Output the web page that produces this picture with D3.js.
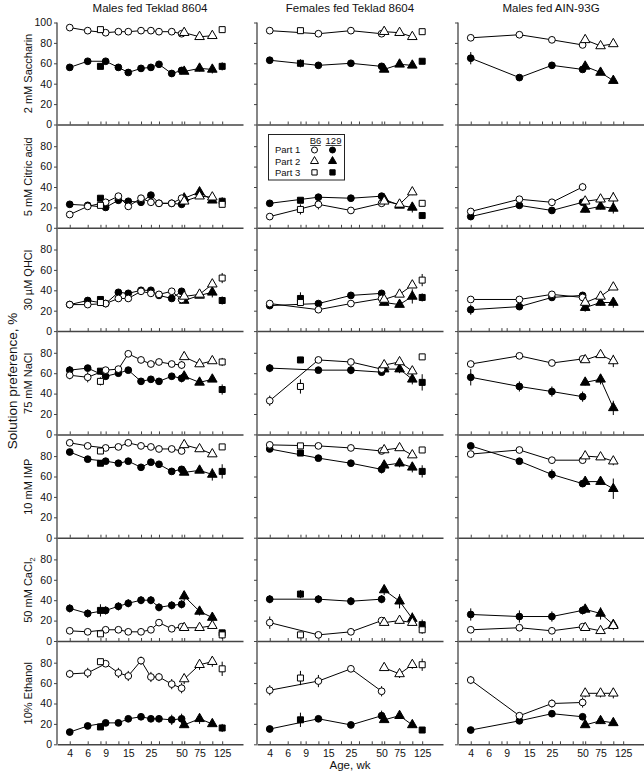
<!DOCTYPE html>
<html><head><meta charset="utf-8">
<script src="https://cdn.jsdelivr.net/npm/d3@7"></script>
<style>
body{margin:0;background:#fff}
svg{display:block;font-family:Arial,"Liberation Sans",sans-serif}
</style>
</head><body>
<svg id="chart" width="644" height="774"></svg>
<script>
// ---------- labels ----------
const groups = ["Males fed Teklad 8604", "Females fed Teklad 8604", "Males fed AIN-93G"];
const tastants = ["2 mM Saccharin", "5 mM Citric acid", "30 µM QHCl", "75 mM NaCl", "10 mM IMP", "50 mM CaCl", "10% Ethanol"];
const tastantSubscripts = ["", "", "", "", "", "2", ""];
const yTickValues = [0, 20, 40, 60, 80];
const xAxisLabel = "Age, wk";
const yAxisLabel = "Solution preference, %";

// ---------- ages (weeks) ----------
const agesPart1 = [[4, 6, 9, 12, 15, 20, 25, 30, 40, 50], [4, 12, 25, 50], [4, 12, 25, 50]];
const agesPart2 = [53, 75, 100];
const agesPart3 = [8, 125];
const tickAges = [4, 6, 8, 9, 12, 15, 20, 25, 30, 40, 50, 53, 75, 100, 125];
const tickLabelAges = [4, 6, 9, 15, 25, 50, 75, 125];

// ---------- values: [column0, column1, column2] ----------
const saccharin = {
  b6p1: [[95, 92, 90, 91, 91, 92, 92, 91, 91, 89], [92, 89, 92, 89], [85, 88, 83, 78]],
  s129p1: [[56, 62, 62, 56, 51, 55, 56, 59, 50, 53], [63, 58, 60, 57], [65, 46, 58, 54]],
  b6p2: [[90, 86, 87], [91, 90, 86], [83, 77, 79]],
  s129p2: [[52, 55, 54], [54, 59, 58], [57, 51, 43]],
  b6p3: [[93, 93], [92, 91], []],
  s129p3: [[57, 57], [60, 62], []]
};
const citric = {
  b6p1: [[13, 21, 25, 31, 21, 29, 25, 24, 24, 29], [11, 23, 17, 24], [16, 28, 25, 40]],
  s129p1: [[23, 22, 20, 27, 26, 25, 32, 24, 24, 23], [24, 30, 29, 31], [11, 22, 17, 25]],
  b6p2: [[26, 31, 30], [26, 23, 35], [26, 28, 29]],
  s129p2: [[29, 35, 27], [28, 22, 20], [18, 21, 19]],
  b6p3: [[22, 23], [18, 24], []],
  s129p3: [[29, 26], [27, 12], []]
};
const qhcl = {
  b6p1: [[26, 26, 27, 32, 32, 39, 37, 36, 39, 31], [27, 21, 27, 32], [31, 31, 36, 33]],
  s129p1: [[26, 30, 27, 38, 37, 40, 40, 35, 32, 39], [25, 27, 35, 37], [21, 24, 33, 35]],
  b6p2: [[34, 36, 46], [31, 36, 45], [28, 34, 43]],
  s129p2: [[30, 35, 38], [28, 26, 34], [23, 28, 28]],
  b6p3: [[28, 52], [28, 50], []],
  s129p3: [[31, 30], [32, 33], []]
};
const nacl = {
  b6p1: [[58, 56, 63, 64, 79, 73, 69, 71, 69, 68], [33, 73, 71, 64], [69, 77, 70, 74]],
  s129p1: [[63, 65, 57, 60, 63, 52, 54, 52, 57, 55], [65, 63, 63, 61], [56, 47, 42, 37]],
  b6p2: [[76, 69, 72], [68, 71, 62], [73, 78, 72]],
  s129p2: [[57, 51, 54], [64, 64, 54], [51, 54, 26]],
  b6p3: [[52, 71], [47, 76], []],
  s129p3: [[62, 44], [73, 51], []]
};
const imp = {
  b6p1: [[93, 90, 88, 89, 93, 90, 89, 87, 87, 85], [91, 90, 88, 85], [82, 86, 76, 76]],
  s129p1: [[84, 77, 75, 73, 75, 69, 74, 72, 65, 67], [87, 78, 73, 67], [90, 75, 62, 53]],
  b6p2: [[91, 87, 82], [86, 88, 81], [80, 79, 75]],
  s129p2: [[64, 66, 62], [71, 73, 69], [55, 55, 48]],
  b6p3: [[85, 89], [90, 86], []],
  s129p3: [[73, 65], [83, 65], []]
};
const cacl2 = {
  b6p1: [[10, 9, 11, 11, 9, 9, 11, 18, 12, 14], [18, 6, 9, 20], [11, 13, 10, 14]],
  s129p1: [[32, 27, 30, 34, 37, 40, 40, 33, 35, 36], [41, 41, 39, 41], [26, 24, 24, 30]],
  b6p2: [[13, 13, 15], [18, 20, 18], [13, 10, 15]],
  s129p2: [[44, 29, 23], [50, 39, 22], [31, 27, 16]],
  b6p3: [[7, 6], [6, 11], []],
  s129p3: [[30, 8], [46, 16], []]
};
const ethanol = {
  b6p1: [[69, 70, 79, 70, 67, 82, 66, 66, 59, 55], [53, 62, 74, 52], [63, 28, 40, 41]],
  s129p1: [[12, 18, 21, 21, 25, 27, 25, 25, 24, 25], [15, 25, 19, 28], [14, 23, 30, 27]],
  b6p2: [[64, 78, 81], [75, 69, 78], [50, 50, 50]],
  s129p2: [[19, 25, 20], [24, 28, 19], [19, 23, 21]],
  b6p3: [[81, 74], [65, 78], []],
  s129p3: [[17, 16], [24, 14], []]
};

// ---------- standard errors (same shape) ----------
const saccharinSE = {
  b6p1: [[1,1,1,1,1,1,1,1,1,1],[1,1,1,1],[1,1,1,2]],
  s129p1: [[2,2,2,2,2,2,2,2,2,3],[2,2,2,2],[6,2,2,2]],
  b6p2: [[1,1,1],[1,1,1],[2,1,1]],
  s129p2: [[2,3,4],[2,2,2],[2,2,2]],
  b6p3: [[1,1],[1,1],[]],
  s129p3: [[2,4],[4,2],[]]
};
const citricSE = {
  b6p1: [[2,2,2,2,2,2,2,2,2,2],[2,5,2,3],[2,2,2,4]],
  s129p1: [[2,2,2,2,2,2,2,2,2,2],[2,2,2,2],[2,2,2,2]],
  b6p2: [[2,2,3],[3,2,3],[2,4,6]],
  s129p2: [[2,4,2],[2,2,5],[3,3,5]],
  b6p3: [[2,3],[5,2],[]],
  s129p3: [[2,4],[2,2],[]]
};
const qhclSE = {
  b6p1: [[3,2,2,2,2,2,2,2,2,2],[2,2,2,2],[2,2,2,2]],
  s129p1: [[2,2,2,2,2,2,2,2,2,2],[2,2,2,2],[5,2,2,2]],
  b6p2: [[2,2,2],[2,2,3],[2,2,2]],
  s129p2: [[2,2,5],[3,2,7],[4,3,5]],
  b6p3: [[2,5],[2,6],[]],
  s129p3: [[2,4],[6,4],[]]
};
const naclSE = {
  b6p1: [[4,5,2,3,2,2,2,2,3,4],[5,3,2,2],[2,2,2,2]],
  s129p1: [[4,3,3,3,2,2,2,2,2,4],[4,2,4,2],[8,5,5,5]],
  b6p2: [[2,2,2],[3,2,3],[2,2,6]],
  s129p2: [[3,2,2],[3,4,5],[3,5,7]],
  b6p3: [[4,4],[7,3],[]],
  s129p3: [[3,5],[3,8],[]]
};
const impSE = {
  b6p1: [[2,2,2,2,2,2,2,2,2,2],[2,2,2,2],[2,2,2,2]],
  s129p1: [[2,2,2,2,2,2,2,2,2,3],[2,2,3,4],[2,2,5,2]],
  b6p2: [[2,2,2],[2,2,2],[2,2,4]],
  s129p2: [[2,2,6],[3,4,5],[2,3,10]],
  b6p3: [[2,2],[2,2],[]],
  s129p3: [[2,7],[2,6],[]]
};
const cacl2SE = {
  b6p1: [[2,2,2,2,2,2,2,2,2,2],[6,2,2,2],[2,2,2,2]],
  s129p1: [[4,4,4,4,4,4,4,4,4,4],[4,4,4,4],[6,6,5,4]],
  b6p2: [[2,2,3],[3,3,3],[2,2,3]],
  s129p2: [[5,4,4],[5,7,6],[4,6,5]],
  b6p3: [[2,4],[2,4],[]],
  s129p3: [[6,3],[4,5],[]]
};
const ethanolSE = {
  b6p1: [[4,5,3,5,5,4,5,4,5,5],[5,6,2,5],[4,3,4,5]],
  s129p1: [[2,2,2,2,2,2,2,3,5,5],[3,3,2,5],[2,2,2,3]],
  b6p2: [[5,5,5],[2,4,4],[4,4,5]],
  s129p2: [[2,5,2],[2,3,3],[2,3,2]],
  b6p3: [[2,7],[7,6],[]],
  s129p3: [[2,4],[7,2],[]]
};

const rowValues = [saccharin, citric, qhcl, nacl, imp, cacl2, ethanol];
const rowErrors = [saccharinSE, citricSE, qhclSE, naclSE, impSE, cacl2SE, ethanolSE];

// ---------- series definitions ----------
const seriesDefs = [
  {key: "s129p1", part: 1, shape: d3.symbolCircle, size: 36, filled: true, line: true},
  {key: "s129p2", part: 2, shape: d3.symbolTriangle, size: 40, filled: true, line: true},
  {key: "s129p3", part: 3, shape: d3.symbolSquare, size: 36, filled: true, line: false},
  {key: "b6p1", part: 1, shape: d3.symbolCircle, size: 36, filled: false, line: true},
  {key: "b6p2", part: 2, shape: d3.symbolTriangle, size: 40, filled: false, line: true},
  {key: "b6p3", part: 3, shape: d3.symbolSquare, size: 36, filled: false, line: false}
];
function agesFor(part, col) {
  return part === 1 ? agesPart1[col] : part === 2 ? agesPart2 : agesPart3;
}

// ---------- layout ----------
const svg = d3.select("#chart");
const colX = [57, 257, 458];
const panelW = 186;
const firstBase = 124.5, rowPitch = 103.3, rowSpan = 102;
const axisColor = "#444";
const ink = "#000";

const x = d3.scaleLog().domain([3, 200]).range([0, panelW]);

// column titles
groups.forEach((g, c) => {
  svg.append("text").attr("x", colX[c] + panelW / 2).attr("y", 12)
    .attr("text-anchor", "middle").attr("font-size", 11.5).attr("fill", "#111").text(g);
});

// main y label
svg.append("text")
  .attr("transform", "translate(12,381) rotate(-90)")
  .attr("text-anchor", "middle").attr("dy", "0.35em")
  .attr("font-size", 13.5).attr("fill", "#111").text(yAxisLabel);

// x label
svg.append("text").attr("x", colX[1] + panelW / 2).attr("y", 769)
  .attr("text-anchor", "middle").attr("font-size", 11.5).attr("fill", "#111").text(xAxisLabel);

const lastBase = firstBase + rowPitch * (tastants.length - 1);
// vertical axis lines for each column
colX.forEach(cx => {
  svg.append("line").attr("x1", cx).attr("x2", cx)
    .attr("y1", firstBase - rowSpan).attr("y2", lastBase)
    .attr("stroke", axisColor).attr("stroke-width", 1.3);
});

tastants.forEach((name, r) => {
  const base = firstBase + rowPitch * r;
  const y = d3.scaleLinear().domain([0, 100]).range([base, base - rowSpan]);

  // row label
  const lab = svg.append("text")
    .attr("transform", `translate(28,${base - rowSpan / 2}) rotate(-90)`)
    .attr("text-anchor", "middle").attr("dy", "0.35em")
    .attr("font-size", 11).attr("fill", "#111").text(name);
  if (tastantSubscripts[r]) {
    lab.append("tspan").attr("font-size", 8).attr("dy", "3").text(tastantSubscripts[r]);
  }

  colX.forEach((cx, c) => {
    const g = svg.append("g").attr("transform", `translate(${cx},0)`);

    // y axis ticks
    const yt = r === 0 ? yTickValues.concat([100]) : yTickValues;
    const ya = g.append("g").call(
      d3.axisLeft(y).tickValues(yt).tickSize(3).tickPadding(2)
        .tickFormat(c === 0 ? d3.format("d") : () => "")
    );
    ya.select(".domain").remove();
    ya.selectAll("line").attr("stroke", axisColor);
    ya.selectAll("text").attr("font-size", 10.5).attr("fill", "#111")
      .attr("font-family", "Arial, 'Liberation Sans', sans-serif");

    // x axis (baseline line with upward ticks)
    const xa = g.append("g").attr("transform", `translate(0,${base})`).call(
      d3.axisBottom(x).tickValues(tickAges).tickSizeInner(-3).tickSizeOuter(0).tickFormat(() => "")
    );
    xa.select(".domain").attr("stroke", axisColor).attr("stroke-width", 1.5);
    xa.selectAll(".tick line").attr("stroke", axisColor);

    if (r === tastants.length - 1) {
      const xl = g.append("g").attr("transform", `translate(0,${base})`).call(
        d3.axisBottom(x).tickValues(tickLabelAges).tickSize(0).tickPadding(5).tickFormat(d3.format("d"))
      );
      xl.select(".domain").remove();
      xl.selectAll("text").attr("font-size", 10.5).attr("fill", "#111")
        .attr("font-family", "Arial, 'Liberation Sans', sans-serif");
    }

    const vals = rowValues[r], errs = rowErrors[r];
    const seriesData = seriesDefs.map(s => {
      const ages = agesFor(s.part, c);
      const v = vals[s.key][c], e = errs[s.key][c];
      return {def: s, pts: v.map((val, i) => ({age: ages[i], v: val, se: e[i]}))};
    });

    const line = d3.line().x(d => x(d.age)).y(d => y(d.v));
    seriesData.forEach(sd => {
      if (sd.def.line && sd.pts.length > 1) {
        g.append("path").attr("d", line(sd.pts)).attr("fill", "none")
          .attr("stroke", ink).attr("stroke-width", 1);
      }
    });
    seriesData.forEach(sd => {
      g.selectAll(null).data(sd.pts).enter().append("line")
        .attr("x1", d => x(d.age)).attr("x2", d => x(d.age))
        .attr("y1", d => y(d.v - d.se)).attr("y2", d => y(d.v + d.se))
        .attr("stroke", ink).attr("stroke-width", 1);
    });
    seriesData.forEach(sd => {
      g.selectAll(null).data(sd.pts).enter().append("path")
        .attr("transform", d => `translate(${x(d.age)},${y(d.v)})`)
        .attr("d", d3.symbol().type(sd.def.shape).size(sd.def.size))
        .attr("fill", sd.def.filled ? ink : "#fff")
        .attr("stroke", ink).attr("stroke-width", 1);
    });
  });
});

// ---------- legend (in citric acid, females panel) ----------
const legendParts = ["Part 1", "Part 2", "Part 3"];
const legendStrains = ["B6", "129"];
const lg = svg.append("g").attr("transform", "translate(268.5,134.5)");
lg.append("rect").attr("width", 76).attr("height", 45.5)
  .attr("fill", "#fff").attr("stroke", "#222").attr("stroke-width", 1);
const strainX = [47, 65];
legendStrains.forEach((s, i) => {
  lg.append("text").attr("x", strainX[i]).attr("y", 9.5)
    .attr("text-anchor", "middle").attr("font-size", 9.5).attr("fill", "#111").text(s);
  const w = s.length * 5.3;
  lg.append("line").attr("x1", strainX[i] - w / 2).attr("x2", strainX[i] + w / 2)
    .attr("y1", 11).attr("y2", 11).attr("stroke", "#111").attr("stroke-width", 0.8);
});
const legendShapes = [d3.symbolCircle, d3.symbolTriangle, d3.symbolSquare];
legendParts.forEach((p, i) => {
  const yy = 15.5 + i * 11.2;
  lg.append("text").attr("x", 6.5).attr("y", yy).attr("dy", "0.35em")
    .attr("font-size", 9.5).attr("fill", "#111").text(p);
  [false, true].forEach((filled, j) => {
    lg.append("path").attr("transform", `translate(${strainX[j] - 1},${yy})`)
      .attr("d", d3.symbol().type(legendShapes[i]).size(28))
      .attr("fill", filled ? ink : "#fff").attr("stroke", ink).attr("stroke-width", 1);
  });
});
</script>
</body></html>
